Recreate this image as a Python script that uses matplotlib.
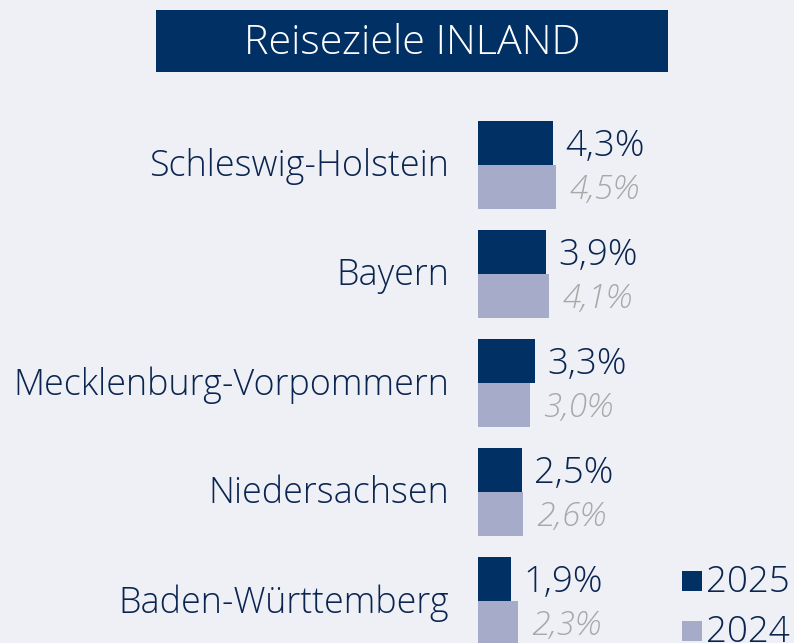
import matplotlib
matplotlib.use("Agg")
import matplotlib.pyplot as plt
from matplotlib.patches import Rectangle

categories = ["Schleswig-Holstein", "Bayern", "Mecklenburg-Vorpommern", "Niedersachsen", "Baden-Württemberg"]
values_2025 = [4.3, 3.9, 3.3, 2.5, 1.9]
values_2024 = [4.5, 4.1, 3.0, 2.6, 2.3]
series_labels = ["2025", "2024"]
title = "Reiseziele INLAND"

BG = "#eff0f5"
DARK = "#003064"
LIGHT = "#a6abc9"
TXT = "#0a2550"
GRAY = "#a8a8a8"

plt.rcParams["font.family"] = ["Open Sans", "DejaVu Sans"]
plt.rcParams["font.weight"] = "light"

W, H = 794, 643
fig = plt.figure(figsize=(W / 100, H / 100), dpi=100, facecolor=BG)

x0 = 478
px_per_unit = 17.4
ax = fig.add_axes([x0 / W, 0, 1 - x0 / W, 1])
ax.set_facecolor("none")
ax.set_xlim(0, (W - x0) / px_per_unit)
pitch = 109
c0 = 165
ax.set_ylim((H - c0) / pitch, -c0 / pitch)
ax.axis("off")

h = 0.4
idx = list(range(len(categories)))
colors = [DARK, LIGHT]
ax.barh([i - h / 2 for i in idx], values_2025, height=h, color=DARK, label=series_labels[0])
ax.barh([i + h / 2 for i in idx], values_2024, height=h, color=LIGHT, label=series_labels[1])

for i, (a, b) in enumerate(zip(values_2025, values_2024)):
    ax.annotate(f"{a:.1f}".replace(".", ",") + "%", (a, i - h / 2), xytext=(12, -3),
                textcoords="offset pixels", va="center", ha="left", fontsize=26.5, color=TXT,
                annotation_clip=False)
    ax.annotate(f"{b:.1f}".replace(".", ",") + "%", (b, i + h / 2), xytext=(13, -3),
                textcoords="offset pixels", va="center", ha="left", fontsize=24, color=GRAY,
                style="italic", annotation_clip=False)
    ax.annotate(categories[i], (0, i), xytext=(-29, -2), textcoords="offset pixels",
                va="center", ha="right", fontsize=25.8, color=TXT, annotation_clip=False)

# title box
fig.patches.append(Rectangle((156 / W, 1 - 72 / H), (668 - 156) / W, 62 / H,
                             transform=fig.transFigure, facecolor=DARK, edgecolor="none"))
fig.text(412 / W, 1 - 44 / H, title, ha="center", va="center", fontsize=29.8, color="white")

# legend
for k, (lab, col) in enumerate(zip(series_labels, colors)):
    ytop = 571 + 50 * k
    fig.patches.append(Rectangle((682 / W, 1 - (ytop + 20) / H), 20 / W, 20 / H,
                                 transform=fig.transFigure, facecolor=col, edgecolor="none"))
    fig.text(706 / W, 1 - (ytop + 12) / H, lab, ha="left", va="center", fontsize=26.5, color=TXT)

fig.savefig("out.png", dpi=100, facecolor=BG)
